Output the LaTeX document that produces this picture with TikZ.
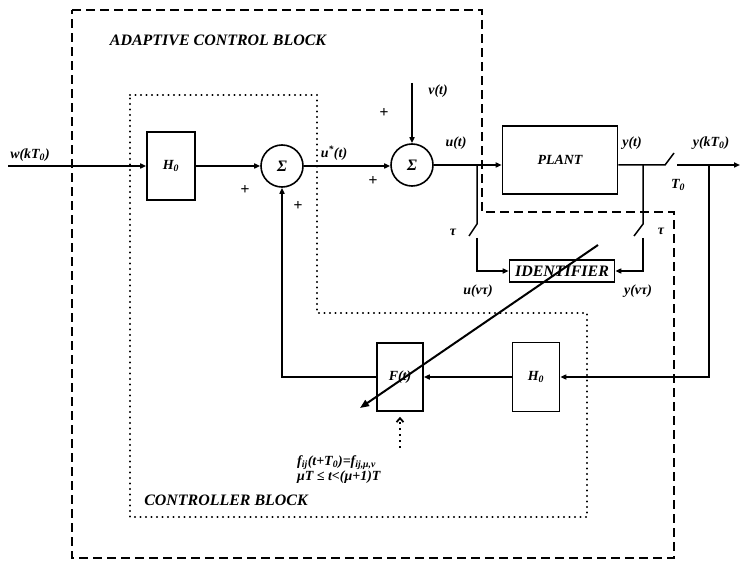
\documentclass[tikz,border=0pt]{standalone}
\usepackage{fontspec}
\setmainfont{Liberation Serif}
\usetikzlibrary{arrows.meta, positioning, calc}
\newcommand{\diafont}{\fontsize{14}{16}\selectfont\bfseries\itshape}
\newcommand{\bigfont}{\fontsize{16}{18}\selectfont\bfseries\itshape}
\tikzset{
  blk/.style    = {rectangle, draw, line width=1.6bp, font=\diafont, inner sep=2pt},
  sumnode/.style= {circle, draw, line width=1.6bp, minimum size=42bp, inner sep=0pt, font=\bigfont},
  sig/.style    = {line width=1.5bp},
  flow/.style   = {sig, -{Triangle[length=6bp,width=5bp]}},
  lbl/.style    = {font=\diafont, inner sep=1pt},
  outerbox/.style={line width=1.6bp, dash pattern=on 9bp off 5bp},
  innerbox/.style={line width=2.2bp, dash pattern=on 0.1bp off 5.4bp, line cap=round},
  adjust/.style = {line width=2bp, -{Triangle[length=9bp,width=7bp]}},
}
\begin{document}
\begin{tikzpicture}[x=1bp, y=-1bp]
  \useasboundingbox (0,0) rectangle (740,561);
  % block borders
  \draw[outerbox] (72,10) -- (482,10) -- (482,212) -- (674,212) -- (674,558) -- (72,558) -- cycle;
  \draw[innerbox] (130,95) -- (317,95) -- (317,313) -- (587,313) -- (587,517) -- (130,517) -- cycle;
  \node[lbl, font=\bigfont] (adaptlbl) at (218,40) {ADAPTIVE CONTROL BLOCK};
  \node[lbl, font=\bigfont] (ctrllbl)  at (226,500) {CONTROLLER BLOCK};
  % blocks
  \node[blk, minimum width=48bp, minimum height=68bp] (hzeroa) at (171,166) {H\textsubscript{0}};
  \node[sumnode] (sumA) at (282,166) {Σ};
  \node[sumnode] (sumB) at (412,165) {Σ};
  \node[blk, minimum width=115bp, minimum height=68bp] (plant) at (560,160) {PLANT};
  \node[blk, minimum width=105bp, minimum height=22bp, inner sep=1pt, font=\bigfont] (ident) at (562,271) {IDENTIFIER};
  \node[blk, minimum width=46bp, minimum height=68bp] (fblk)   at (400,377) {F(t)};
  \node[blk, minimum width=47bp, minimum height=69bp] (hzerob) at (536,377) {H\textsubscript{0}};
  % free ends and switches
  \coordinate (win)   at (8,166);
  \coordinate (vin)   at (412,83);
  \coordinate (uBr)   at (477,165);
  \coordinate (swLa)  at (477,224);
  \coordinate (swLb)  at (477,238);
  \coordinate (yBr)   at (643,165);
  \coordinate (swRa)  at (643,224);
  \coordinate (swRb)  at (643,238);
  \coordinate (swOa)  at (665,165);
  \coordinate (swOb)  at (677,165);
  \coordinate (yBrk)  at (709,165);
  \coordinate (yout)  at (740,165);
  \coordinate (adjA)  at (598,245);
  \coordinate (adjB)  at (360,408);
  \coordinate (parA)  at (400,448);
  % signals
  \draw[flow] (win) -- (hzeroa.west);
  \draw[flow] (hzeroa.east) -- (hzeroa.east -| sumA.west);
  \draw[flow] (sumA.east) -- (sumA.east -| sumB.west);
  \draw[flow] (vin) -- (sumB.north);
  \draw[flow] (sumB.east) -- (sumB.east -| plant.west);
  \draw[sig] (plant.east |- swOa) -- (swOa) -- ++(9,-12);
  \draw[flow] (swOb) -- (yout);
  \draw[sig] (uBr) -- (swLa) -- ++(-8,12);
  \draw[flow] (swLb) |- (ident.west);
  \draw[sig] (yBr) -- (swRa) -- ++(-9,12);
  \draw[flow] (swRb) |- (ident.east);
  \draw[flow] (yBrk) |- (hzerob.east);
  \draw[flow] (hzerob.west) -- (fblk.east);
  \draw[flow] (fblk.west) -| (sumA.south);
  \draw[adjust] (adjA) -- (adjB);
  \draw[line width=1.8bp, dash pattern=on 2bp off 4bp, -{Straight Barb[length=4bp,width=7bp]}] (parA) -- ([yshift=-5bp]fblk.south);
  % labels
  \node[lbl] (wlbl)  at (30,155)  {w(kT\textsubscript{0})};
  \node[lbl] (ustar) at (334,153) {u\textsuperscript{*}(t)};
  \node[lbl] (vlbl)  at (438,91)  {v(t)};
  \node[lbl] (ulbl)  at (456,143) {u(t)};
  \node[lbl] (ylbl)  at (632,143) {y(t)};
  \node[lbl] (yklbl) at (711,143) {y(kT\textsubscript{0})};
  \node[lbl] (tzero) at (678,185) {T\textsubscript{0}};
  \node[lbl] (tauL)  at (453,232) {τ};
  \node[lbl] (tauR)  at (661,231) {τ};
  \node[lbl] (unu)   at (478,291) {u(ντ)};
  \node[lbl] (ynu)   at (638,291) {y(ντ)};
  \foreach \p/\q in {245/190, 298/206, 384/113, 373/181}{\node[lbl, font=\bigfont] at (\p,\q) {+};}
  \node[lbl, anchor=north west, align=left, inner sep=0pt] (param) at (297,455)
    {f\textsubscript{ij}(t+T\textsubscript{0})=f\textsubscript{ij,μ,ν}\\μT ≤ t<(μ+1)T};
\end{tikzpicture}
\end{document}
